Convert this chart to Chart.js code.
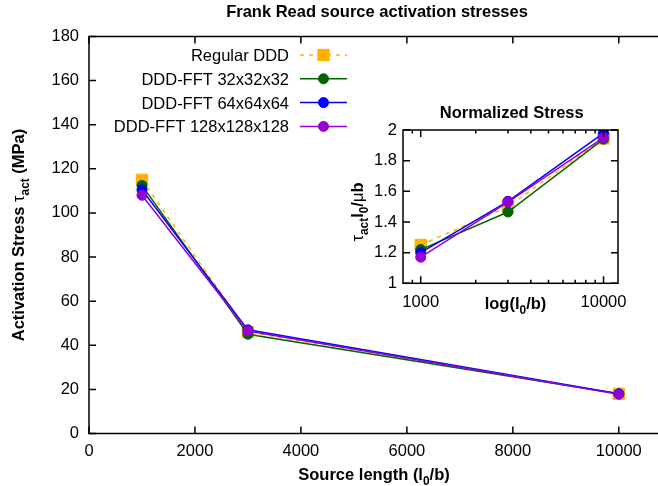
<!DOCTYPE html>
<html>
<head>
<meta charset="utf-8">
<script src="https://cdn.jsdelivr.net/npm/chart.js@4"></script>
<style>
  body { margin: 0; background: #fff; }
  #wrap { position: relative; width: 658px; height: 486px; }
  #inset { position: absolute; left: 330px; top: 95px; }
</style>
</head>
<body>
<div id="wrap">
  <canvas id="main" width="658" height="486"></canvas>
  <canvas id="inset" width="328" height="220"></canvas>
</div>
<script>
// source lengths l0/b
const lengths = [1000, 3000, 10000];
const seriesNames = ['Regular DDD', 'DDD-FFT 32x32x32', 'DDD-FFT 64x64x64', 'DDD-FFT 128x128x128'];

// activation stress (MPa)
const stressRegular = [115, 46, 18];
const stress32 = [112.5, 45, 18];
const stress64 = [110.5, 47, 18];
const stress128 = [108, 46.5, 17.8];

// normalized stress tau*l0/(mu*b)
const normRegular = [1.25, 1.50, 1.945];
const norm32 = [1.22, 1.465, 1.94];
const norm64 = [1.20, 1.535, 1.98];
const norm128 = [1.17, 1.53, 1.95];

const mainXTicks = [0, 2000, 4000, 6000, 8000, 10000];
const insetXTicks = [1000, 10000];
const insetMinorTicks = [900, 2000, 3000, 4000, 5000, 6000, 7000, 8000, 9000];

const FONT = '"Liberation Sans", Arial, Helvetica, sans-serif';
const FS = 16.5;

const styles = [
  { color: '#ffb000', dash: [4, 5], point: 'rect', radius: 8 },
  { color: '#006400', dash: [], point: 'circle', radius: 5 },
  { color: '#0000ff', dash: [], point: 'circle', radius: 5 },
  { color: '#9400d3', dash: [], point: 'circle', radius: 5 }
];

function makeDatasets(lists) {
  return lists.map((vals, i) => ({
    label: seriesNames[i],
    data: lengths.map((x, j) => ({ x: x, y: vals[j] })),
    borderColor: styles[i].color,
    backgroundColor: styles[i].color,
    borderWidth: 1.5,
    borderDash: styles[i].dash,
    pointStyle: styles[i].point,
    pointRadius: styles[i].radius,
    pointBorderWidth: 1,
    pointHoverRadius: styles[i].radius,
    tension: 0,
    order: 3 - i
  }));
}

// text with subscripts; parts = [{t, sub, normal}]
function richText(ctx, parts, x, y, size, rot) {
  ctx.save();
  ctx.translate(x, y);
  ctx.rotate(rot || 0);
  ctx.fillStyle = '#000';
  ctx.textBaseline = 'alphabetic';
  ctx.textAlign = 'left';
  const fontOf = p => (p.normal ? '' : 'bold ') + (p.sub ? size * 0.72 : size) + 'px ' + FONT;
  let w = 0;
  parts.forEach(p => { ctx.font = fontOf(p); w += ctx.measureText(p.t).width; });
  let cx = -w / 2;
  const base = size * 0.36;
  parts.forEach(p => {
    ctx.font = fontOf(p);
    ctx.fillText(p.t, cx, base + (p.sub ? size * 0.3 : 0));
    cx += ctx.measureText(p.t).width;
  });
  ctx.restore();
}

function marker(ctx, st, x, y) {
  ctx.save();
  ctx.fillStyle = st.color;
  ctx.strokeStyle = st.color;
  ctx.lineWidth = 1;
  ctx.setLineDash([]);
  Chart.helpers.drawPoint(ctx, { pointStyle: st.point, radius: st.radius, rotation: 0, borderWidth: 1 }, x, y);
  ctx.restore();
}

const mainDecor = {
  id: 'mainDecor',
  afterDraw(chart) {
    const { ctx, chartArea: a, scales: { x, y } } = chart;
    ctx.save();
    ctx.strokeStyle = '#000';
    ctx.lineWidth = 1.5;
    ctx.beginPath();
    ctx.moveTo(a.right, a.top);
    ctx.lineTo(a.left, a.top);
    ctx.lineTo(a.left, a.bottom);
    ctx.lineTo(a.right, a.bottom);
    ctx.stroke();
    ctx.beginPath();
    x.ticks.forEach(t => {
      const px = x.getPixelForValue(t.value);
      ctx.moveTo(px, a.bottom); ctx.lineTo(px, a.bottom - 7);
      ctx.moveTo(px, a.top); ctx.lineTo(px, a.top + 7);
    });
    y.ticks.forEach(t => {
      const py = y.getPixelForValue(t.value);
      ctx.moveTo(a.left, py); ctx.lineTo(a.left + 7, py);
    });
    ctx.stroke();

    // legend, top left inside the plot
    chart.data.datasets.forEach((ds, i) => {
      const cy = 55 + i * 23.8;
      ctx.font = FS + 'px ' + FONT;
      ctx.fillStyle = '#000';
      ctx.textAlign = 'right';
      ctx.textBaseline = 'alphabetic';
      ctx.fillText(ds.label, 289, cy + 6);
      ctx.strokeStyle = styles[i].color;
      ctx.lineWidth = 1.5;
      ctx.setLineDash(styles[i].dash);
      ctx.beginPath();
      ctx.moveTo(300, cy); ctx.lineTo(347, cy);
      ctx.stroke();
      ctx.setLineDash([]);
      marker(ctx, styles[i], 323.5, cy);
    });
    ctx.restore();

    richText(ctx, [{ t: 'Frank Read source activation stresses' }], 377, 11.5, FS);
    richText(ctx, [{ t: 'Source length (l' }, { t: '0', sub: true }, { t: '/b)' }], 374, 474, FS);
    richText(ctx, [{ t: 'Activation Stress ' }, { t: 'τ', normal: true }, { t: 'act', sub: true }, { t: ' (MPa)' }],
      18, 235, FS, -Math.PI / 2);
  }
};

const insetDecor = {
  id: 'insetDecor',
  afterDraw(chart) {
    const { ctx, chartArea: a, scales: { x, y } } = chart;
    ctx.save();
    ctx.strokeStyle = '#000';
    ctx.lineWidth = 1.5;
    ctx.strokeRect(a.left, a.top, a.right - a.left, a.bottom - a.top);
    ctx.beginPath();
    insetXTicks.forEach(v => {
      const px = x.getPixelForValue(v);
      ctx.moveTo(px, a.bottom); ctx.lineTo(px, a.bottom - 7);
      ctx.moveTo(px, a.top); ctx.lineTo(px, a.top + 7);
    });
    insetMinorTicks.forEach(v => {
      const px = x.getPixelForValue(v);
      ctx.moveTo(px, a.bottom); ctx.lineTo(px, a.bottom - 3.5);
      ctx.moveTo(px, a.top); ctx.lineTo(px, a.top + 3.5);
    });
    y.ticks.forEach(t => {
      const py = y.getPixelForValue(t.value);
      ctx.moveTo(a.left, py); ctx.lineTo(a.left + 7, py);
      ctx.moveTo(a.right, py); ctx.lineTo(a.right - 7, py);
    });
    ctx.stroke();
    ctx.restore();

    richText(ctx, [{ t: 'Normalized Stress' }], 181.7, 16.7, FS);
    richText(ctx, [{ t: 'log(l' }, { t: '0', sub: true }, { t: '/b)' }], 185.5, 208, FS);
    richText(ctx, [{ t: 'τ', normal: true }, { t: 'act', sub: true }, { t: 'l' }, { t: '0', sub: true },
      { t: '/' }, { t: 'μ', normal: true }, { t: 'b' }], 27.5, 117, FS, -Math.PI / 2);
  }
};

const tickFont = { family: FONT, size: FS };

// keep the plot area fixed: no extra room reserved for overhanging tick labels
function fixX(h) {
  return s => { s.height = h; s.paddingLeft = 0; s.paddingRight = 0; };
}

new Chart(document.getElementById('main'), {
  type: 'line',
  data: { datasets: makeDatasets([stressRegular, stress32, stress64, stress128]) },
  options: {
    responsive: false,
    animation: false,
    events: [],
    layout: { autoPadding: false, padding: { top: 36.5, right: 0, left: 0, bottom: 0 } },
    plugins: { legend: { display: false }, tooltip: { enabled: false } },
    scales: {
      x: {
        type: 'linear', min: 0, max: 10740,
        grid: { display: false, drawTicks: false },
        border: { display: false },
        afterBuildTicks: s => { s.ticks = mainXTicks.map(v => ({ value: v })); },
        ticks: { autoSkip: false, maxRotation: 0, color: '#000', font: tickFont, padding: 8,
          callback: v => String(v) },
        afterFit: fixX(52.5)
      },
      y: {
        min: 0, max: 180,
        grid: { display: false, drawTicks: false },
        border: { display: false },
        ticks: { stepSize: 20, color: '#000', font: tickFont, padding: 10 },
        afterFit: s => { s.width = 89; s.paddingTop = 0; s.paddingBottom = 0; }
      }
    }
  },
  plugins: [mainDecor]
});

new Chart(document.getElementById('inset'), {
  type: 'line',
  data: { datasets: makeDatasets([normRegular, norm32, norm64, norm128]) },
  options: {
    responsive: false,
    animation: false,
    events: [],
    layout: { autoPadding: false, padding: { top: 35, right: 40, left: 0, bottom: 0 } },
    plugins: { legend: { display: false }, tooltip: { enabled: false } },
    scales: {
      x: {
        type: 'logarithmic', min: 800, max: 12000,
        grid: { display: false, drawTicks: false },
        border: { display: false },
        afterBuildTicks: s => { s.ticks = insetXTicks.map(v => ({ value: v })); },
        ticks: { autoSkip: false, maxRotation: 0, color: '#000', font: tickFont, padding: 9,
          callback: v => String(v) },
        afterFit: fixX(31.7)
      },
      y: {
        min: 1, max: 2,
        grid: { display: false, drawTicks: false },
        border: { display: false },
        ticks: { stepSize: 0.2, color: '#000', font: tickFont, padding: 6,
          callback: v => String(Math.round(v * 10) / 10) },
        afterFit: s => { s.width = 73; s.paddingTop = 0; s.paddingBottom = 0; }
      }
    }
  },
  plugins: [insetDecor]
});
</script>
</body>
</html>
